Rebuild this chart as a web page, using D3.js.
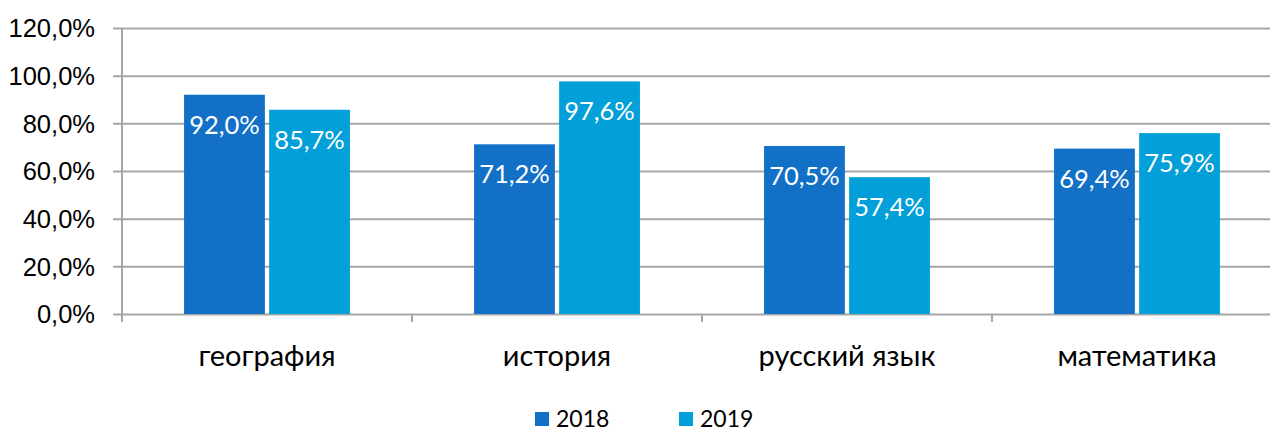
<!DOCTYPE html>
<html>
<head>
<meta charset="utf-8">
<script src="https://cdn.jsdelivr.net/npm/d3@7"></script>
<style>
  body { margin: 0; background: #fff; }
  svg { display: block; font-family: Lato, "Open Sans", sans-serif; }
</style>
</head>
<body>
<svg></svg>
<script>
// data
let categories = ['география', 'история', 'русский язык', 'математика']
let years = ['2018', '2019']
let values2018 = [92.0, 71.2, 70.5, 69.4]
let values2019 = [85.7, 97.6, 57.4, 75.9]
let yTicks = [0, 20, 40, 60, 80, 100, 120]

let colors = ['#1270c6', '#029fd9']

let width = 1270
let height = 430
let plotLeft = 122, plotRight = 1282, plotTop = 28, plotBottom = 314

let svg = d3.select('svg').attr('width', width).attr('height', height)

let fmt = (v) => d3.format('.1f')(v).replace('.', ',') + '%'

let x0 = d3.scaleBand().domain(categories).range([plotLeft, plotRight])
           .paddingInner(0.428).paddingOuter(0.214)
let x1 = d3.scaleBand().domain(years).range([0, x0.bandwidth()]).paddingInner(0.05)
let y = d3.scaleLinear().domain([0, 120]).range([plotBottom, plotTop])

// gridlines with y axis labels
let yAxis = d3.axisLeft(y).tickValues(yTicks).tickSize(plotRight - plotLeft + 9).tickFormat(fmt)
let gy = svg.append('g')
  .attr('transform', `translate(${plotRight},0)`)
  .call(yAxis)
gy.select('.domain').remove()
gy.selectAll('line').attr('stroke', '#a6a6a6').attr('stroke-width', 2)
gy.selectAll('text')
  .attr('x', -(plotRight - plotLeft) - 27)
  .attr('dy', '0.35em')
  .style('font-size', '25.5px')
  .attr('fill', '#000')

// vertical axis line
svg.append('line')
  .attr('x1', plotLeft).attr('x2', plotLeft)
  .attr('y1', y(120)).attr('y2', plotBottom + 8)
  .attr('stroke', '#a6a6a6').attr('stroke-width', 2)

// category ticks
let bounds = d3.range(categories.length + 1).map((i) => plotLeft + i * x0.step())
svg.selectAll('.cat-tick')
  .data(bounds)
  .enter()
  .append('line')
  .attr('x1', (d) => d).attr('x2', (d) => d)
  .attr('y1', plotBottom).attr('y2', plotBottom + 8)
  .attr('stroke', '#a6a6a6').attr('stroke-width', 2)

// bars
let rows = categories.map((c, i) => ({ cat: c, vals: [values2018[i], values2019[i]] }))
let groups = svg.selectAll('.grp')
  .data(rows)
  .enter()
  .append('g')
  .attr('transform', (d) => `translate(${x0(d.cat)},0)`)

groups.selectAll('rect')
  .data((d) => d.vals.map((v, j) => ({ year: years[j], v: v, j: j })))
  .enter()
  .append('rect')
  .attr('x', (d) => x1(d.year))
  .attr('width', x1.bandwidth())
  .attr('y', (d) => y(d.v))
  .attr('height', (d) => plotBottom - y(d.v))
  .attr('fill', (d) => colors[d.j])

groups.selectAll('.lbl')
  .data((d) => d.vals.map((v, j) => ({ year: years[j], v: v })))
  .enter()
  .append('text')
  .attr('x', (d) => x1(d.year) + x1.bandwidth() / 2)
  .attr('y', (d) => y(d.v) + 30)
  .attr('dy', '0.35em')
  .attr('text-anchor', 'middle')
  .attr('fill', '#fff')
  .style('font-size', '25.5px')
  .text((d) => fmt(d.v))

// category labels
svg.selectAll('.cat')
  .data(categories)
  .enter()
  .append('text')
  .attr('x', (d) => x0(d) + x0.bandwidth() / 2)
  .attr('y', 366)
  .attr('text-anchor', 'middle')
  .style('font-size', '29px')
  .text((d) => d)

// legend
let legend = svg.selectAll('.legend')
  .data(years)
  .enter()
  .append('g')
  .attr('transform', (d, i) => `translate(${535 + i * 144},412)`)

legend.append('rect')
  .attr('width', 14).attr('height', 14)
  .attr('fill', (d, i) => colors[i])

legend.append('text')
  .attr('x', 21).attr('y', 15)
  .style('font-size', '23px')
  .text((d) => d)
</script>
</body>
</html>
